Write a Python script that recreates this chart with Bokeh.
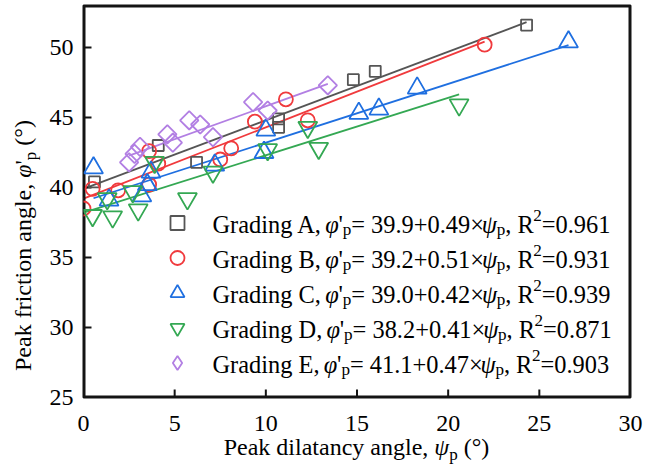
import glob, os, math
from bokeh.plotting import figure
from bokeh.models import Range1d, Label, Legend, LegendItem, FixedTicker, Div
from bokeh.layouts import row, column
from bokeh.embed import file_html
from bokeh.resources import INLINE

# ---------------- data ----------------
grading = ["A", "B", "C", "D", "E"]

a_x = [0.6, 4.1, 6.2, 10.7, 10.7, 14.8, 16.0, 24.3]
a_y = [40.4, 43.0, 41.8, 44.9, 44.3, 47.7, 48.3, 51.6]

b_x = [0.0, 0.5, 1.9, 3.6, 3.6, 4.1, 7.5, 8.1, 9.4, 11.1, 12.3, 22.0]
b_y = [38.5, 39.9, 39.8, 40.2, 42.6, 41.7, 42.0, 42.8, 44.7, 46.3, 44.8, 50.2]

c_x = [0.55, 1.4, 3.2, 3.5, 3.7, 7.2, 9.9, 10.0, 15.1, 16.2, 18.3, 26.6]
c_y = [41.4, 39.1, 39.4, 40.2, 41.1, 41.6, 42.5, 44.1, 45.3, 45.6, 47.1, 50.4]

d_x = [0.5, 1.3, 1.6, 2.7, 3.0, 3.9, 5.7, 7.1, 10.1, 12.3, 12.9, 20.6]
d_y = [38.0, 39.2, 37.9, 39.7, 38.4, 41.8, 39.2, 41.1, 42.7, 44.3, 42.8, 45.9]

e_x = [2.5, 2.8, 3.1, 4.6, 4.9, 5.8, 6.4, 7.1, 9.3, 10.1, 13.4]
e_y = [41.8, 42.4, 42.9, 43.8, 43.2, 44.8, 44.5, 43.6, 46.1, 45.5, 47.3]

intercepts = [39.9, 39.2, 39.0, 38.2, 41.1]
slopes = [0.49, 0.51, 0.42, 0.41, 0.47]
r_squared = [0.961, 0.931, 0.939, 0.871, 0.903]
fit_x_start = [0.1, 0.0, 0.55, 0.1, 2.5]
fit_x_end = [24.3, 22.0, 26.6, 20.6, 13.4]

x_ticks = [0, 5, 10, 15, 20, 25, 30]
y_ticks = [25, 30, 35, 40, 45, 50]
x_lo, x_hi = 0, 30
y_lo, y_hi = 25, 53

series_x = [a_x, b_x, c_x, d_x, e_x]
series_y = [a_y, b_y, c_y, d_y, e_y]

# ---------------- styles ----------------
colors = ["#555555", "#f03a3d", "#1f6fe0", "#34a853", "#b27fe3"]
markers = ["square", "circle", "triangle", "inverted_triangle", "square"]
legend_markers = ["square", "circle", "triangle", "inverted_triangle", "diamond"]
msizes = [11, 14, 19, 19, 13]
mangles = [0, 0, 0, 0, math.pi / 4]
INK = "#141414"

FONT = "Liberation Serif"
FS = 24
FS_LEG = 24.4

# ---------------- text measuring ----------------
_fonts = {}
def _font_path(name):
    for base in ["/usr/share/fonts", "/usr/local/share/fonts", os.path.expanduser("~/.fonts")]:
        r = glob.glob(os.path.join(base, "**", name), recursive=True)
        if r:
            return r[0]
    return None

def text_width(txt, size, italic=False):
    key = (size, italic)
    if key not in _fonts:
        f = None
        try:
            from PIL import ImageFont
            path = _font_path("LiberationSerif-Italic.ttf" if italic else "LiberationSerif-Regular.ttf")
            if path:
                f = ImageFont.truetype(path, size)
        except Exception:
            f = None
        _fonts[key] = f
    f = _fonts[key]
    if f is None:
        return 0.5 * size * len(txt)
    return f.getlength(txt)

# ---------------- figure ----------------
YW = 40           # width of the y-title strip
PW, PH = 645 - YW, 435
B_LEFT, B_RIGHT, B_TOP, B_BOTTOM = 83 - YW, 15, 5, 38
FRAME_W = PW - B_LEFT - B_RIGHT
FRAME_H = PH - B_TOP - B_BOTTOM

p = figure(width=PW, height=PH, output_backend="svg", toolbar_location=None,
           x_range=Range1d(x_lo, x_hi), y_range=Range1d(y_lo, y_hi),
           min_border_left=B_LEFT, min_border_right=B_RIGHT,
           min_border_top=B_TOP, min_border_bottom=B_BOTTOM)
p.margin = (0, 0, 0, 0)
p.xgrid.visible = False
p.ygrid.visible = False
p.outline_line_color = INK
p.outline_line_width = 2

for ax, ticks in ((p.xaxis, x_ticks), (p.yaxis, y_ticks)):
    ax.ticker = FixedTicker(ticks=ticks)
    ax.major_tick_in = 0
    ax.major_tick_out = 0
    ax.minor_tick_line_color = None
    ax.major_tick_line_color = None
    ax.axis_line_color = None
    ax.major_label_text_font = FONT
    ax.major_label_text_font_size = "%dpx" % FS
    ax.major_label_text_color = "black"
p.xaxis.major_label_standoff = 18
p.yaxis.major_label_standoff = 10

# fit lines first (coloured strokes)
for i in range(5):
    xs0, xs1 = fit_x_start[i], fit_x_end[i]
    p.line([xs0, xs1], [intercepts[i] + slopes[i] * xs0, intercepts[i] + slopes[i] * xs1],
           line_color=colors[i], line_width=1.8)

# frame box and inward ticks, drawn on the plot's own scales
dx = (x_hi - x_lo) / FRAME_W
dy = (y_hi - y_lo) / FRAME_H
TICK = 8
p.segment(x0=[x_lo, x_hi, x_lo, x_lo], y0=[y_lo, y_lo, y_lo, y_hi],
          x1=[x_lo, x_hi, x_hi, x_hi], y1=[y_hi, y_hi, y_lo, y_hi],
          line_color=INK, line_width=4)
p.segment(x0=x_ticks, y0=[y_lo] * len(x_ticks), x1=x_ticks, y1=[y_lo + TICK * dy] * len(x_ticks),
          line_color=INK, line_width=2)
p.segment(x0=[x_lo] * len(y_ticks), y0=y_ticks, x1=[x_lo + TICK * dx] * len(y_ticks), y1=y_ticks,
          line_color=INK, line_width=2)

legend_renderers = []
for i in range(5):
    r = p.scatter(series_x[i], series_y[i], marker=markers[i], size=msizes[i], angle=mangles[i],
                  fill_color=None, line_color=colors[i], line_width=1.8)
    if legend_markers[i] != markers[i]:
        r = p.scatter(series_x[i], series_y[i], marker=legend_markers[i], size=msizes[i],
                      fill_color=None, line_color=colors[i], line_width=1.8, visible=False)
    legend_renderers.append(r)

legend = Legend(items=[LegendItem(label=" ", renderers=[r]) for r in legend_renderers],
                location=(74, 17), glyph_width=40, glyph_height=35, label_height=35,
                spacing=0, padding=0, margin=0, label_standoff=0,
                label_text_font_size="1px", label_text_alpha=0,
                background_fill_alpha=0, border_line_alpha=0)
p.add_layout(legend, "center")

# ---------------- legend texts (rich, as several labels) ----------------
SUB = 0.7

def put_segments(segs, x0, y0):
    pos = 0.0
    for txt, italic, shift, scale in segs:
        size = round(FS_LEG * scale, 1)
        p.add_layout(Label(x=x0 + pos, y=y0 + shift, x_units="screen", y_units="screen", text=txt,
                           text_font=FONT, text_font_size="%spx" % size,
                           text_font_style="italic" if italic else "normal",
                           text_color="black", text_align="left", text_baseline="alphabetic"))
        pos += text_width(txt, round(size), italic)
    return pos

for i in range(5):
    segs = [("Grading %s, " % grading[i], False, 0, 1.0),
            ("\u03c6", True, 0, 1.0),
            ("'", False, 0, 1.0),
            ("p", False, -5, SUB),
            ("= %.1f+%.2f\u00d7" % (intercepts[i], slopes[i]), False, 0, 1.0),
            ("\u03c8", True, 0, 1.0),
            ("p", False, -5, SUB),
            (", R", False, 0, 1.0),
            ("2", False, 9, SUB),
            ("=%.3f" % r_squared[i], False, 0, 1.0)]
    put_segments(segs, 129, 173 - 35 * i)

# ---------------- axis titles (HTML text) ----------------
base = "font-family:'Liberation Serif'; font-size:24px; line-height:24px; color:black; white-space:nowrap;"
subp = '<span style="font-size:17px; position:relative; top:5px;">p</span>'

y_title = ('<div style="position:relative; width:%dpx; height:%dpx;">'
           '<div style="position:absolute; left:11px; top:371px; transform:rotate(-90deg); '
           'transform-origin:0 0; %s">Peak friction angle, <i>&#966;</i>\'%s (&#176;)</div></div>'
           % (YW, PH, base, subp))
x_title = ('<div style="position:relative; width:645px; height:35px;">'
           '<div style="position:absolute; left:83px; top:0px; width:547px; text-align:center; %s">'
           'Peak dilatancy angle, <i>&#968;</i>%s (&#176;)</div></div>' % (base, subp))

ydiv = Div(text=y_title, width=YW, height=PH, margin=(0, 0, 0, 0))
xdiv = Div(text=x_title, width=645, height=35, margin=(0, 0, 0, 0))

layout = column(row(ydiv, p, spacing=0), xdiv, spacing=0)

open("out.html", "w").write(file_html(layout, INLINE))
